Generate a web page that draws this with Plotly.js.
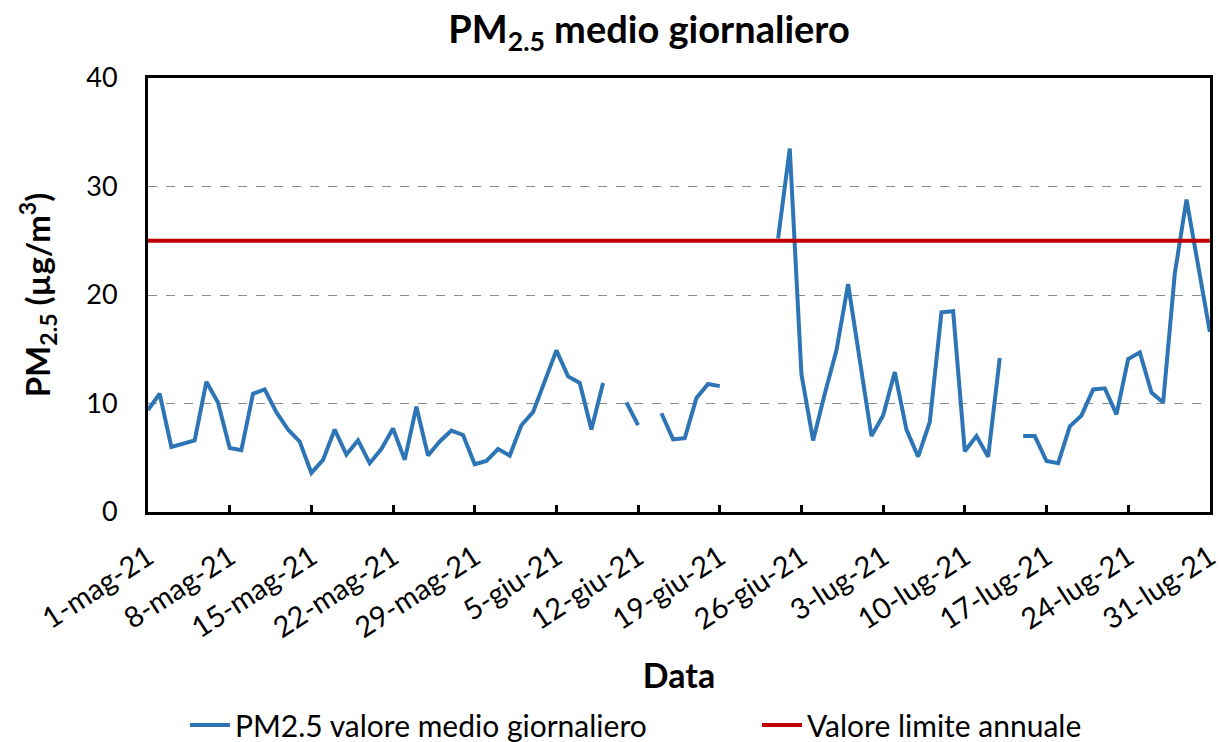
<!DOCTYPE html>
<html>
<head>
<meta charset="utf-8">
<script src="https://cdn.plot.ly/plotly-3.0.1.min.js"></script>
<style>html,body{margin:0;padding:0;background:#fff;}#chart{width:1220px;height:742px;}</style>
</head>
<body>
<div id="chart"></div>
<script>
// Daily PM2.5 values from 1 May 2021 to 31 July 2021 (null = missing)
const startDate = "2021-05-01";
const pm25Values = [
  9.4, 10.9, 6.0, 6.3, 6.6, 12.0, 10.1, 5.9, 5.7, 10.9,
  11.3, 9.2, 7.6, 6.5, 3.6, 4.8, 7.6, 5.3, 6.6, 4.5,
  5.8, 7.7, 4.8, 9.7, 5.2, 6.5, 7.5, 7.1, 4.4, 4.7,
  5.8, 5.2, 8.0, 9.2, 12.0, 14.9, 12.5, 11.9, 7.6, 11.9,
  null, 10.1, 8.0, null, 9.1, 6.7, 6.8, 10.5, 11.8, 11.6,
  null, null, null, null, 25.2, 33.5, 12.7, 6.6, 10.9, 14.9,
  21.0, 14.0, 7.0, 8.9, 12.9, 7.6, 5.1, 8.3, 18.4, 18.5,
  5.6, 7.0, 5.1, 14.2, null, 7.0, 7.0, 4.7, 4.5, 7.9,
  8.9, 11.3, 11.4, 9.0, 14.1, 14.7, 11.0, 10.1, 22.0, 28.8,
  22.9, 16.6
];
const limitValue = 25;
const tickLabels = ["1-mag-21","8-mag-21","15-mag-21","22-mag-21","29-mag-21","5-giu-21","12-giu-21","19-giu-21","26-giu-21","3-lug-21","10-lug-21","17-lug-21","24-lug-21","31-lug-21"];
const seriesNames = ["PM2.5 valore medio giornaliero", "Valore limite annuale"];

function addDays(iso, n) {
  const d = new Date(iso + "T00:00:00Z");
  d.setUTCDate(d.getUTCDate() + n);
  return d.toISOString().slice(0, 10);
}
const dates = pm25Values.map((_, i) => addDays(startDate, i));
const tickVals = tickLabels.map((_, i) => addDays(startDate, i * 7));
const limitLine = dates.map(() => limitValue);

const FONT = "Lato, 'Open Sans', sans-serif";

const traces = [
  {
    x: dates, y: pm25Values, name: seriesNames[0], type: "scatter", mode: "lines",
    connectgaps: false, legend: "legend",
    line: {color: "#2E75B6", width: 4}
  },
  {
    x: dates, y: limitLine, name: seriesNames[1], type: "scatter", mode: "lines",
    legend: "legend2",
    line: {color: "#C00000", width: 4}
  }
];

const legendBase = {
  orientation: "h", xref: "container", yref: "container",
  xanchor: "left", y: 0.023, yanchor: "middle",
  font: {family: FONT, size: 30, color: "#000"},
  itemwidth: 40, bgcolor: "rgba(0,0,0,0)"
};

const layout = {
  width: 1220, height: 742,
  margin: {l: 148, r: 10, t: 78, b: 230},
  paper_bgcolor: "#fff", plot_bgcolor: "#fff",
  font: {family: FONT, size: 28, color: "#000"},
  title: {
    text: "<b>PM<sub>2.5</sub> medio giornaliero</b>",
    font: {family: FONT, size: 38, color: "#000"},
    x: 0.532, xanchor: "center", y: 0.96, yanchor: "middle"
  },
  xaxis: {
    type: "date",
    range: [dates[0], dates[dates.length - 1] + " 00:20"],
    tickvals: tickVals, ticktext: tickLabels,
    tickangle: -33,
    ticklabeloverflow: "allow",
    ticks: "inside", ticklen: 7, tickwidth: 3, tickcolor: "#000",
    showline: true, linecolor: "#000", linewidth: 3, mirror: true,
    showgrid: false, zeroline: false,
    tickfont: {family: FONT, size: 29, color: "#000"},
    ticklabelstandoff: 14,
    title: {text: "<b>Data</b>", font: {family: FONT, size: 34, color: "#000"}, standoff: 22}
  },
  yaxis: {
    range: [0, 40], tickvals: [0, 10, 20, 30, 40],
    ticks: "", showline: true, linecolor: "#000", linewidth: 3, mirror: true,
    showgrid: true, gridcolor: "#8c8c8c", griddash: "dash", gridwidth: 1,
    zeroline: false,
    tickfont: {family: FONT, size: 27, color: "#000"},
    ticklabelstandoff: 22,
    title: {text: "<b>PM<sub>2.5</sub> (µg/m<sup>3</sup>)</b>", font: {family: FONT, size: 33, color: "#000"}, standoff: 26}
  },
  showlegend: true,
  legend: Object.assign({}, legendBase, {x: 185 / 1220}),
  legend2: Object.assign({}, legendBase, {x: 757 / 1220})
};

Plotly.newPlot("chart", traces, layout, {displayModeBar: false, staticPlot: true});
</script>
</body>
</html>
